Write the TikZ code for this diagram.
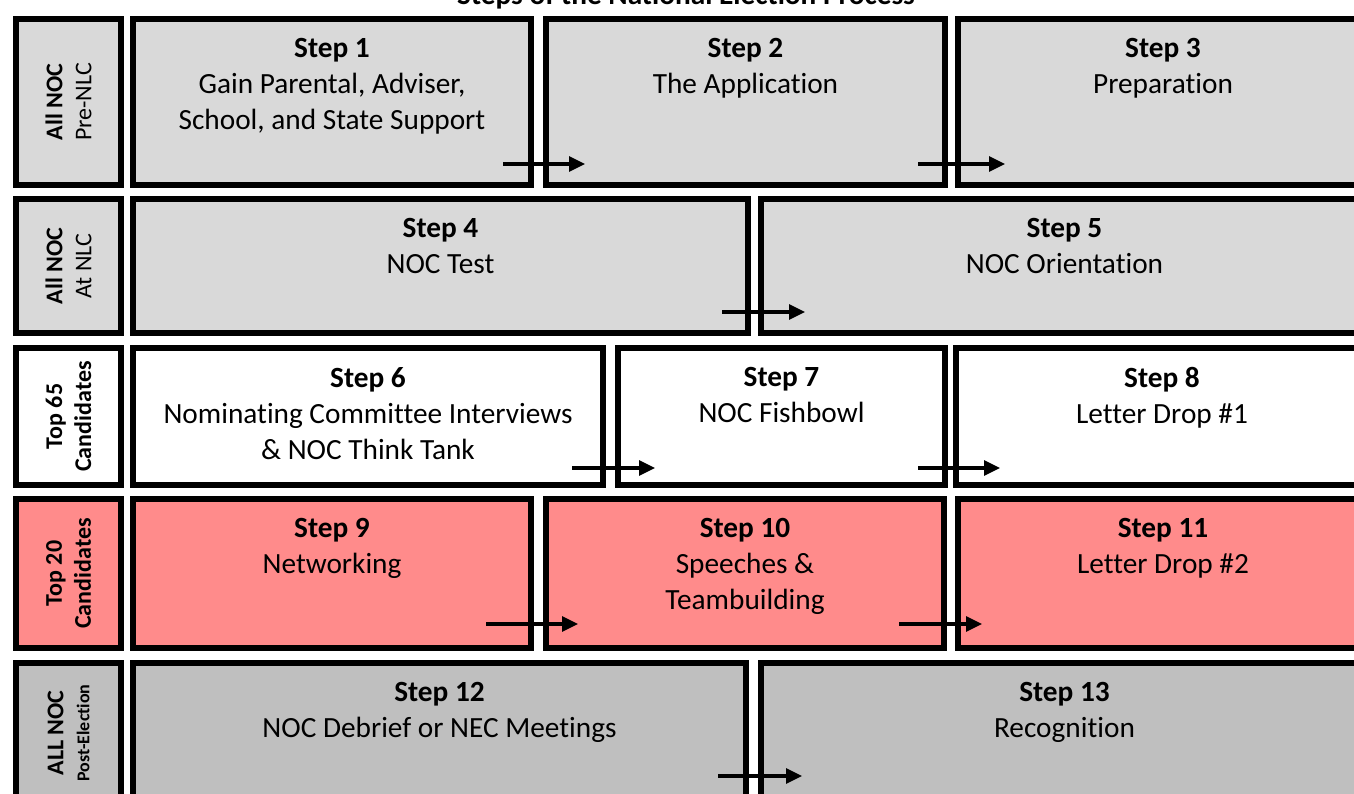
\documentclass[tikz,border=0pt]{standalone}
\usepackage{fontspec}
\setmainfont{Carlito}[Ligatures={NoCommon,NoRequired},Contextuals=NoAlternate]
\usetikzlibrary{arrows.meta,positioning}
\definecolor{StageGray}{HTML}{D9D9D9}
\definecolor{FinalGray}{HTML}{BFBFBF}
\definecolor{TopPink}{HTML}{FF8B8B}
\tikzset{
  stepbox/.style={draw=black,line width=6pt,rectangle,anchor=north west,inner sep=0pt},
  steptext/.style={font=\fontsize{29.3}{36}\selectfont,align=center,inner sep=0pt},
  grouptext/.style={font=\fontsize{24}{29}\selectfont,align=center,rotate=90,inner sep=0pt},
  flow/.style={-{Triangle[length=16pt,width=15pt]},line width=3.2pt},
  titletext/.style={font=\fontsize{29.3}{36}\selectfont\bfseries,inner sep=0pt}
}

\begin{document}
\begin{tikzpicture}[x=1pt,y=1pt]
  \useasboundingbox (0,0) rectangle (1354,-794);
  \node[titletext,anchor=base] (title) at (686,-5) {Steps of the National Election Process};

  % row 1: all NOC, pre-NLC
  \node[stepbox,fill=StageGray,minimum width=105,minimum height=166] (g1) at (13,-16) {};
  \node[stepbox,fill=StageGray,minimum width=398,minimum height=166] (s1) at (130,-16) {};
  \node[stepbox,fill=StageGray,minimum width=399,minimum height=166] (s2) at (543,-16) {};
  \node[stepbox,fill=StageGray,minimum width=410,minimum height=166] (s3) at (955,-16) {};
  % row 2: all NOC, at NLC
  \node[stepbox,fill=StageGray,minimum width=105,minimum height=134] (g2) at (13,-196) {};
  \node[stepbox,fill=StageGray,minimum width=615,minimum height=134] (s4) at (130,-196) {};
  \node[stepbox,fill=StageGray,minimum width=607,minimum height=134] (s5) at (758,-196) {};
  % row 3: top 65
  \node[stepbox,fill=white,minimum width=105,minimum height=137] (g3) at (13,-345) {};
  \node[stepbox,fill=white,minimum width=470,minimum height=137] (s6) at (130,-345) {};
  \node[stepbox,fill=white,minimum width=327,minimum height=137] (s7) at (615,-345) {};
  \node[stepbox,fill=white,minimum width=412,minimum height=137] (s8) at (953,-345) {};
  % row 4: top 20
  \node[stepbox,fill=TopPink,minimum width=105,minimum height=149] (g4) at (13,-496) {};
  \node[stepbox,fill=TopPink,minimum width=398,minimum height=149] (s9) at (130,-496) {};
  \node[stepbox,fill=TopPink,minimum width=398,minimum height=149] (s10) at (543,-496) {};
  \node[stepbox,fill=TopPink,minimum width=410,minimum height=149] (s11) at (955,-496) {};
  % row 5: post-election
  \node[stepbox,fill=FinalGray,minimum width=105,minimum height=140] (g5) at (13,-660) {};
  \node[stepbox,fill=FinalGray,minimum width=613,minimum height=140] (s12) at (130,-660) {};
  \node[stepbox,fill=FinalGray,minimum width=607,minimum height=140] (s13) at (758,-660) {};

  % side labels
  \node[grouptext] (g1t) at (g1) {\textbf{All NOC}\\Pre-NLC};
  \node[grouptext] (g2t) at (g2) {\textbf{All NOC}\\At NLC};
  \node[grouptext,font=\fontsize{24}{29}\selectfont\bfseries] (g3t) at (g3) {Top 65\\Candidates};
  \node[grouptext,font=\fontsize{24}{29}\selectfont\bfseries] (g4t) at (g4) {Top 20\\Candidates};
  \node[grouptext,font=\fontsize{24}{26}\selectfont\bfseries] (g5t) at (g5) {ALL NOC\\{\fontsize{18}{22}\selectfont Post-Election}};

  % step texts
  \node[steptext,below=22pt of s1.north] (t1) {\textbf{Step 1}\\Gain Parental, Adviser,\\School, and State Support};
  \node[steptext,below=22pt of s2.north] (t2) {\textbf{Step 2}\\The Application};
  \node[steptext,below=22pt of s3.north] (t3) {\textbf{Step 3}\\Preparation};
  \node[steptext,below=22pt of s4.north] (t4) {\textbf{Step 4}\\NOC Test};
  \node[steptext,below=22pt of s5.north] (t5) {\textbf{Step 5}\\NOC Orientation};
  \node[steptext,below=22pt of s6.north] (t6) {\textbf{Step 6}\\Nominating Committee Interviews\\\& NOC Think Tank};
  \node[steptext,below=22pt of s7.north] (t7) {\textbf{Step 7}\\NOC Fishbowl};
  \node[steptext,below=22pt of s8.north] (t8) {\textbf{Step 8}\\Letter Drop \#1};
  \node[steptext,below=22pt of s9.north] (t9) {\textbf{Step 9}\\Networking};
  \node[steptext,below=22pt of s10.north] (t10) {\textbf{Step 10}\\Speeches \&\\Teambuilding};
  \node[steptext,below=22pt of s11.north] (t11) {\textbf{Step 11}\\Letter Drop \#2};
  \node[steptext,below=22pt of s12.north] (t12) {\textbf{Step 12}\\NOC Debrief or NEC Meetings};
  \node[steptext,below=22pt of s13.north] (t13) {\textbf{Step 13}\\Recognition};

  % arrows across the box joints
  \draw[flow] ([shift={(-31,24)}]s1.south east) -- ([shift={(42,24)}]s2.south west);
  \draw[flow] ([shift={(-30,24)}]s2.south east) -- ([shift={(50,24)}]s3.south west);
  \draw[flow] ([shift={(-29,24)}]s4.south east) -- ([shift={(47,24)}]s5.south west);
  \draw[flow] ([shift={(-34,20)}]s6.south east) -- ([shift={(40,20)}]s7.south west);
  \draw[flow] ([shift={(-30,20)}]s7.south east) -- ([shift={(47,20)}]s8.south west);
  \draw[flow] ([shift={(-48,27)}]s9.south east) -- ([shift={(35,27)}]s10.south west);
  \draw[flow] ([shift={(-48,27)}]s10.south east) -- ([shift={(27,27)}]s11.south west);
  \draw[flow] ([shift={(-31,30)}]s12.south east) -- ([shift={(44,30)}]s13.south west);
\end{tikzpicture}
\end{document}
